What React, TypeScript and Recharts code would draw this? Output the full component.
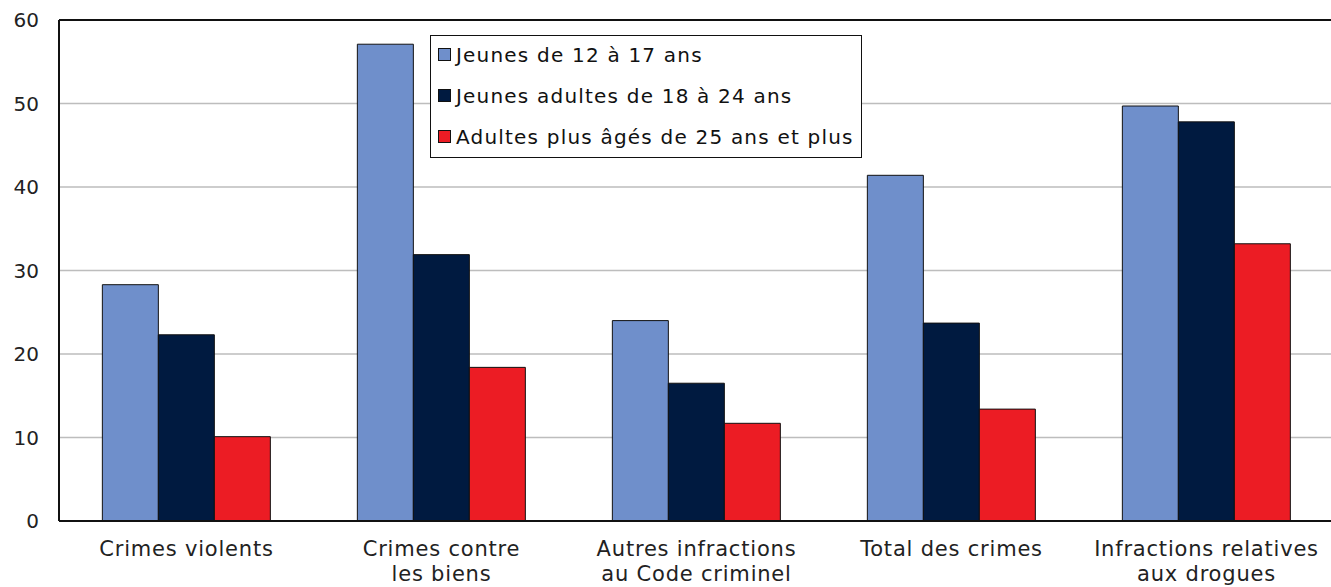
import { Bar, BarChart, CartesianGrid, ReferenceLine, XAxis, YAxis } from 'recharts';

const categories = [
  'Crimes violents',
  'Crimes contre\nles biens',
  'Autres infractions\nau Code criminel',
  'Total des crimes',
  'Infractions relatives\naux drogues',
];
const youth = [28.3, 57.1, 24.0, 41.4, 49.7];
const youngAdults = [22.3, 31.9, 16.5, 23.7, 47.8];
const olderAdults = [10.1, 18.4, 11.7, 13.4, 33.2];
const yTicks = [0, 10, 20, 30, 40, 50, 60];

const series = [
  { key: 'youth', name: 'Jeunes de 12 à 17 ans', color: '#6f8fcb' },
  { key: 'youngAdults', name: 'Jeunes adultes de 18 à 24 ans', color: '#001a40' },
  { key: 'olderAdults', name: 'Adultes plus âgés de 25 ans et plus', color: '#ec1c24' },
];

const data = categories.map((name, i) => ({
  name,
  youth: youth[i],
  youngAdults: youngAdults[i],
  olderAdults: olderAdults[i],
}));

const FONT = '"DejaVu Sans", Verdana, sans-serif';

function CategoryTick({ x, y, payload }: any) {
  const lines = String(payload.value).split('\n');
  return (
    <text
      x={x}
      y={y}
      textAnchor="middle"
      fill="#222"
      fontSize={21}
      letterSpacing={0.8}
      fontFamily={FONT}
    >
      {lines.map((line, i) => (
        <tspan key={i} x={x} dy={i === 0 ? 27 : 25}>
          {line}
        </tspan>
      ))}
    </text>
  );
}

function Legend() {
  return (
    <div
      style={{
        position: 'absolute',
        left: 430,
        top: 35,
        width: 432,
        height: 123,
        border: '1.5px solid #111',
        background: '#fff',
        fontFamily: FONT,
        fontSize: 20,
        letterSpacing: 1.2,
        color: '#111',
        boxSizing: 'border-box',
        padding: '0 0 0 7px',
      }}
    >
      {series.map((s) => (
        <div
          key={s.key}
          style={{ display: 'flex', alignItems: 'center', height: 41, position: 'relative', top: -2 }}
        >
          <span
            style={{
              width: 13,
              height: 13,
              boxSizing: 'border-box',
              background: s.color,
              border: '1px solid #111',
              marginRight: 5,
              display: 'inline-block',
            }}
          />
          {s.name}
        </div>
      ))}
    </div>
  );
}

export default function App() {
  return (
    <div style={{ position: 'absolute', left: 0, top: 0, width: 1331, height: 587, overflow: 'hidden', background: '#fff' }}>
      <BarChart
        width={1336}
        height={587}
        data={data}
        margin={{ top: 20, right: 2, bottom: 0, left: 0 }}
        barCategoryGap="17%"
        barGap={0}
      >
        <CartesianGrid vertical={false} stroke="#bdbdbd" strokeWidth={1.5} />
        <XAxis
          dataKey="name"
          axisLine={{ stroke: '#111', strokeWidth: 2 }}
          tickLine={false}
          tick={<CategoryTick />}
          height={66}
          interval={0}
        />
        <YAxis
          domain={[0, 60]}
          ticks={yTicks}
          width={59}
          axisLine={{ stroke: '#111', strokeWidth: 2 }}
          tickLine={false}
          tick={{ fill: '#222', fontSize: 20, fontFamily: FONT }}
          tickMargin={14}
        />
        <ReferenceLine y={60} stroke="#111" strokeWidth={2} />
        {series.map((s) => (
          <Bar
            key={s.key}
            dataKey={s.key}
            name={s.name}
            fill={s.color}
            stroke="#111"
            strokeWidth={1}
            isAnimationActive={false}
          />
        ))}
      </BarChart>
      <Legend />
    </div>
  );
}
